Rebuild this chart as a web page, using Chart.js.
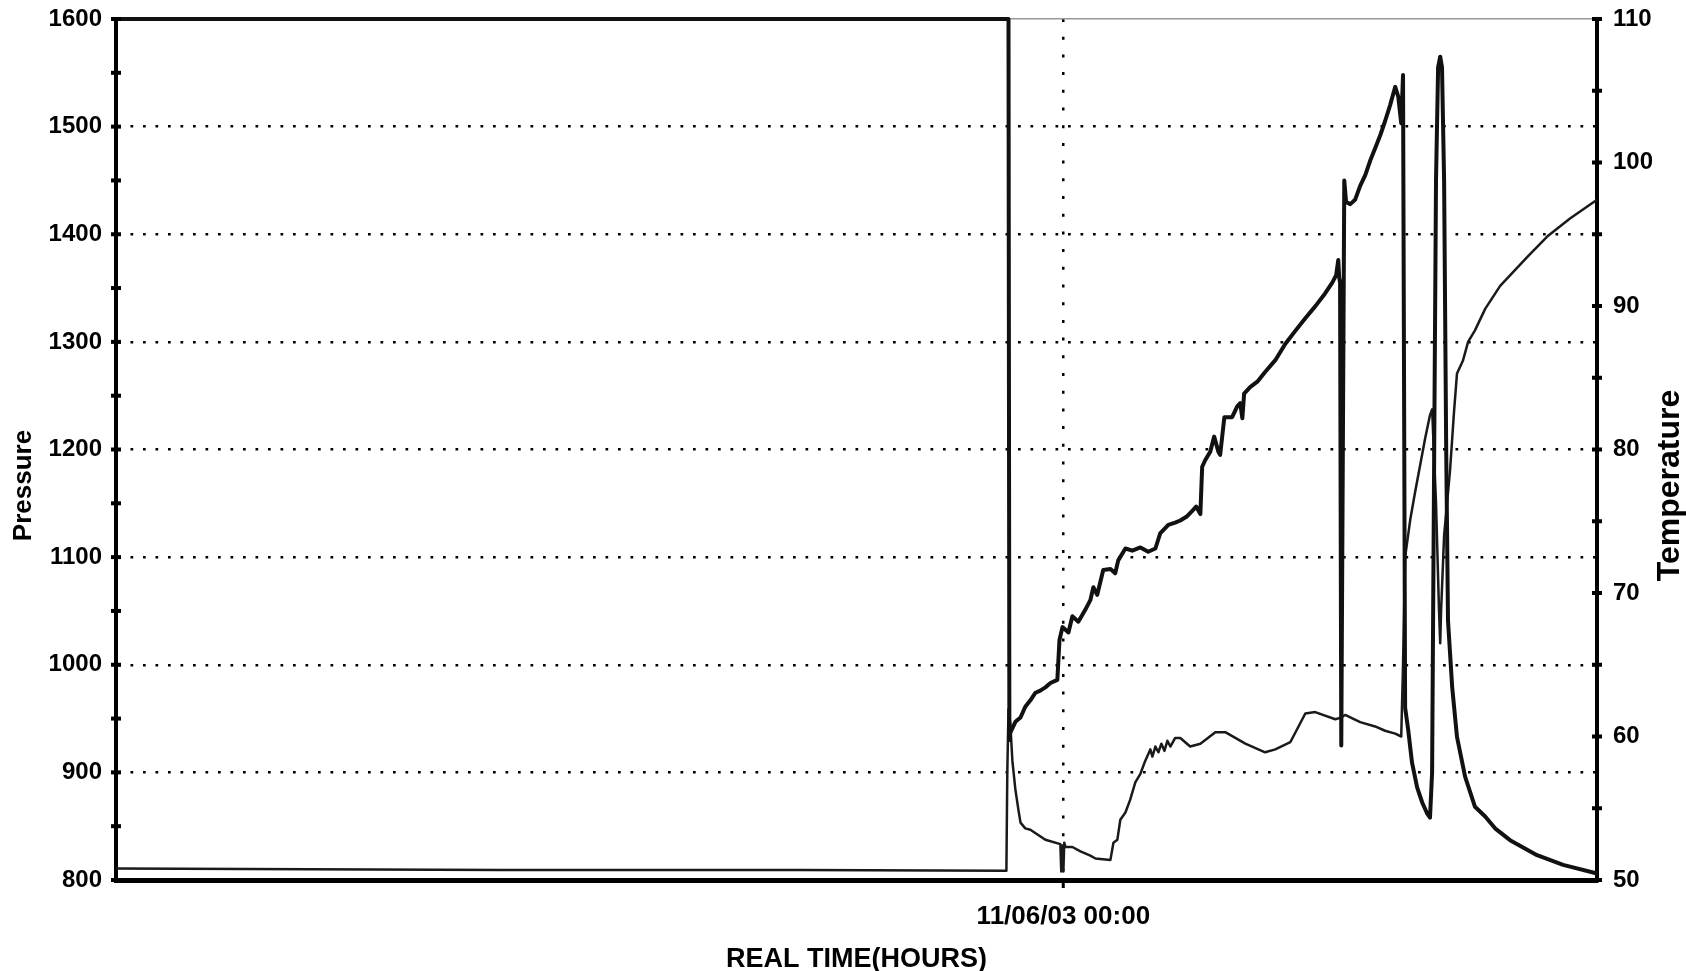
<!DOCTYPE html>
<html>
<head>
<meta charset="utf-8">
<title>Pressure / Temperature vs Real Time</title>
<script src="https://cdn.jsdelivr.net/npm/chart.js@4.4.1/dist/chart.umd.min.js"></script>
<style>
    html, body { margin: 0; padding: 0; background: #fff; }
    canvas { display: block; }
</style>
</head>
<body>
<canvas id="gaugeChart" width="1686" height="971"></canvas>
<script>
// Time in hours relative to 11/06/03 00:00
const timeRange = [-31.6, 17.8];
const xTickHours = [0];
const xTickLabels = ['11/06/03 00:00'];
const xTitle = 'REAL TIME(HOURS)';
const pressureTitle = 'Pressure';
const temperatureTitle = 'Temperature';

const pressureRange = [800, 1600];
const temperatureRange = [50, 110];

// Pressure (left axis, heavy trace)
const pressureHours = [-31.6, -1.83, -1.8, -1.77, -1.6, -1.43, -1.27, -1.1, -0.93, -0.77, -0.6, -0.43, -0.2, -0.13, -0.03,
    0.17, 0.3, 0.5, 0.73, 0.9, 1.0, 1.13, 1.33, 1.57, 1.73, 1.83, 2.07, 2.3, 2.57, 2.83, 3.07, 3.23, 3.5, 3.73, 3.9,
    4.13, 4.3, 4.43, 4.57, 4.63, 4.73, 4.9, 5.03, 5.17, 5.23, 5.37, 5.63, 5.8, 5.9, 5.97, 6.03, 6.23, 6.47, 6.73,
    7.07, 7.4, 7.73, 8.07, 8.4, 8.73, 8.97, 9.1, 9.17, 9.2, 9.23, 9.27, 9.37, 9.43, 9.57, 9.73, 9.9, 10.07, 10.23,
    10.4, 10.57, 10.73, 10.9, 11.07, 11.17, 11.27, 11.33, 11.4, 11.5, 11.63, 11.8, 11.97, 12.13, 12.23, 12.3, 12.37,
    12.43, 12.5, 12.57, 12.63, 12.7, 12.77, 12.83, 12.97, 13.13, 13.4, 13.73, 14.07, 14.4, 14.9, 15.8, 16.67, 17.8];
const pressureValues = [1600, 1600, 930, 937, 947, 951, 961, 967, 974, 976, 979, 983, 986, 1023, 1035,
    1030, 1045, 1040, 1051, 1060, 1072, 1065, 1088, 1089, 1085, 1097, 1108, 1106, 1109, 1105, 1108, 1122, 1130, 1132, 1134,
    1138, 1143, 1147, 1140, 1184, 1190, 1198, 1212, 1198, 1195, 1230, 1230, 1240, 1243, 1229, 1252, 1258, 1263, 1272,
    1283, 1298, 1310, 1322, 1333, 1345, 1355, 1362, 1376, 1360, 1355, 925, 1450, 1430, 1428, 1432, 1445, 1455, 1468,
    1480, 1492, 1505, 1520, 1537, 1528, 1503, 1548, 960, 940, 909, 886, 872, 862, 858, 900, 1200,
    1450, 1555, 1565, 1555, 1450, 1200, 1041, 979, 933, 896, 868, 859, 848, 837, 823, 814, 806];

// Temperature (right axis, light trace)
const temperatureHours = [-31.6, -18.77, -8.77, -1.9, -1.87, -1.83, -1.77, -1.7, -1.6, -1.5, -1.43, -1.27, -1.1, -0.6,
    -0.1, -0.07, -0.03, 0, 0.03, 0.07, 0.3, 0.57, 0.9, 1.07, 1.57, 1.67, 1.8, 1.9, 2.07, 2.23, 2.4, 2.57, 2.73, 2.9,
    2.97, 3.07, 3.17, 3.27, 3.37, 3.47, 3.57, 3.73, 3.9, 4.23, 4.57, 5.07, 5.4, 6.07, 6.73, 7.07, 7.57, 8.07, 8.4,
    9.07, 9.23, 9.4, 9.9, 10.4, 10.73, 11.07, 11.27, 11.33, 11.4, 11.57, 11.73, 11.9, 12.07, 12.23, 12.3, 12.43,
    12.53, 12.57, 12.6, 12.7, 12.83, 12.9, 13.03, 13.13, 13.33, 13.5, 13.73, 14.07, 14.57, 15.47, 16.17, 16.9, 17.8];
const temperatureValues = [50.8, 50.7, 50.7, 50.65, 57.5, 61.9, 60.9, 58.3, 56.3, 54.9, 54.0, 53.6, 53.5, 52.8,
    52.5, 50.6, 52.4, 50.6, 52.6, 52.3, 52.3, 52.0, 51.7, 51.5, 51.4, 52.6, 52.8, 54.2, 54.7, 55.6, 56.8, 57.4, 58.3, 59.1,
    58.6, 59.3, 58.9, 59.5, 59.0, 59.7, 59.3, 59.9, 59.9, 59.3, 59.5, 60.3, 60.3, 59.5, 58.9, 59.1, 59.6, 61.6, 61.7,
    61.2, 61.3, 61.5, 61.0, 60.7, 60.4, 60.2, 60.0, 65.0, 72.5, 75.1, 77.0, 78.9, 80.8, 82.4, 82.8, 76.3,
    68.8, 66.5, 68.8, 74.0, 77.0, 78.6, 82.6, 85.3, 86.2, 87.5, 88.3, 89.8, 91.4, 93.4, 94.9, 96.1, 97.4];

Chart.defaults.font.family = "'Liberation Sans', Arial, Helvetica, sans-serif";
Chart.defaults.font.weight = 'bold';
Chart.defaults.color = '#000';

function toPoints(xs, ys) {
    return xs.map((x, i) => ({ x: x, y: ys[i] }));
}

// short stubs crossing the two value axes
const crossTicks = {
    id: 'crossTicks',
    afterDraw(chart) {
        const ctx = chart.ctx;
        const area = chart.chartArea;
        ctx.save();
        ctx.fillStyle = '#000';
        [['y', area.left], ['y1', area.right]].forEach(([id, x]) => {
            const scale = chart.scales[id];
            scale.ticks.forEach(t => {
                const py = scale.getPixelForValue(t.value);
                ctx.fillRect(x - 5, py - 2, 10, 4);
            });
        });
        ctx.restore();
    }
};

// side titles, centred on the whole page height like the original
const sideTitles = {
    id: 'sideTitles',
    afterDraw(chart) {
        const ctx = chart.ctx;
        ctx.save();
        ctx.fillStyle = '#000';
        ctx.textAlign = 'center';
        ctx.textBaseline = 'middle';
        [[pressureTitle, 24, 26], [temperatureTitle, chart.width - 16, 32]].forEach(([text, x, size]) => {
            ctx.save();
            ctx.font = 'bold ' + size + "px 'Liberation Sans', Arial, sans-serif";
            ctx.translate(x, chart.height / 2);
            ctx.rotate(-Math.PI / 2);
            ctx.fillText(text, 0, 0);
            ctx.restore();
        });
        ctx.restore();
    }
};

const ctx = document.getElementById('gaugeChart').getContext('2d');
new Chart(ctx, {
    type: 'line',
    data: {
        datasets: [{
            label: pressureTitle,
            data: toPoints(pressureHours, pressureValues),
            xAxisID: 'x',
            yAxisID: 'y',
            borderColor: '#111',
            borderWidth: 4,
            borderJoinStyle: 'round',
            pointRadius: 0,
            tension: 0,
            clip: 6
        }, {
            label: temperatureTitle,
            data: toPoints(temperatureHours, temperatureValues),
            xAxisID: 'x',
            yAxisID: 'y1',
            borderColor: '#1a1a1a',
            borderWidth: 2.5,
            borderJoinStyle: 'round',
            pointRadius: 0,
            tension: 0,
            clip: 6
        }]
    },
    options: {
        responsive: false,
        animation: false,
        layout: { padding: 0 },
        plugins: {
            legend: { display: false },
            tooltip: { enabled: false }
        },
        scales: {
            x: {
                type: 'linear',
                position: 'bottom',
                min: timeRange[0],
                max: timeRange[1],
                afterBuildTicks: s => { s.ticks = xTickHours.map(v => ({ value: v })); },
                afterFit: s => { s.height = 91; },
                ticks: {
                    callback: (v, i) => xTickLabels[i],
                    font: { size: 26, weight: 'bold' },
                    padding: 13,
                    maxRotation: 0,
                    autoSkip: false
                },
                grid: { color: '#000', lineWidth: 2.5, tickLength: 8, tickWidth: 3, tickColor: '#000' },
                border: { color: '#000', width: 5, dash: [3, 14.7] },
                title: {
                    display: true,
                    text: xTitle,
                    font: { size: 27, weight: 'bold', lineHeight: 0.87 },
                    padding: 0
                }
            },
            xTop: {
                type: 'linear',
                position: 'top',
                min: timeRange[0],
                max: timeRange[1],
                ticks: { display: false },
                grid: { display: false, drawTicks: false },
                border: { color: '#999', width: 1.5 },
                afterFit: s => { s.height = 19; }
            },
            y: {
                type: 'linear',
                position: 'left',
                min: pressureRange[0],
                max: pressureRange[1],
                ticks: {
                    stepSize: 50,
                    autoSkip: false,
                    padding: 0,
                    font: { size: 24, weight: 'bold' },
                    callback: v => (v % 100 === 0 ? String(v) : '')
                },
                grid: {
                    color: c => (c.tick && c.tick.value % 100 === 0 && c.tick.value > pressureRange[0] && c.tick.value < pressureRange[1]) ? '#000' : 'rgba(0,0,0,0)',
                    lineWidth: 2.5,
                    drawTicks: true,
                    tickLength: 14,
                    tickColor: 'rgba(0,0,0,0)'
                },
                border: { color: '#000', width: 4, dash: [2.7, 9.8] },
                afterFit: s => { s.width = 116; }
            },
            y1: {
                type: 'linear',
                position: 'right',
                min: temperatureRange[0],
                max: temperatureRange[1],
                ticks: {
                    stepSize: 5,
                    autoSkip: false,
                    padding: 0,
                    font: { size: 24, weight: 'bold' },
                    callback: v => (v % 10 === 0 ? String(v) : '')
                },
                grid: { drawOnChartArea: false, drawTicks: true, tickLength: 16, tickColor: 'rgba(0,0,0,0)' },
                border: { color: '#000', width: 4 },
                afterFit: s => { s.width = 89; }
            }
        }
    },
    plugins: [crossTicks, sideTitles]
});
</script>
</body>
</html>
